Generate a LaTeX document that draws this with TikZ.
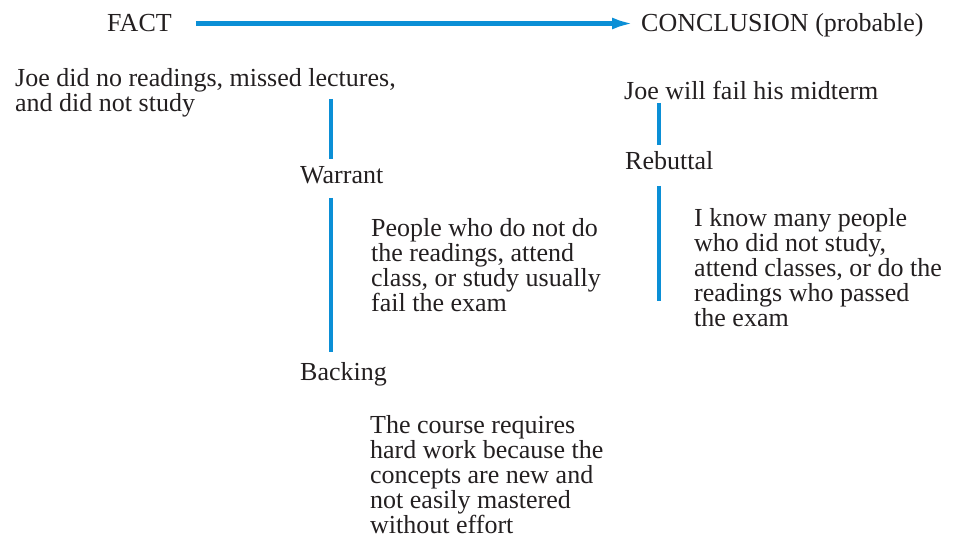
\documentclass[tikz,border=0pt]{standalone}
\usepackage{fontspec}
\setmainfont{Liberation Serif}
\usetikzlibrary{arrows.meta, calc}

\definecolor{argblue}{HTML}{0B8FD6}
\definecolor{argtext}{HTML}{231F20}

\begin{document}
\begin{tikzpicture}[x = 1bp, y = -1bp, > = {Latex[length = 22bp, width = 12bp]},
	txt/.style = {anchor = base west, inner sep = 0, align = left, text = argtext,
		font = \fontsize{26bp}{25bp}\selectfont},
	link/.style = {draw = argblue, line width = 4.5bp}]

	\useasboundingbox (0, 0) rectangle (954, 542);

	% Definitions (multi-line texts are placed by their last baseline)

	\def\dx{31}		% Offset of left stem from its label
	\def\rx{34}		% Offset of right stem from its label

	% Top line

	\node [txt] (fact) at (107, 32) {FACT};
	\node [txt] (concl) at (641, 32) {CONCLUSION (probable)};
	\draw [link, ->, shorten < = 24bp, shorten > = 7bp] (fact.east) -- (fact.east -| concl.west);

	% Left column

	\node [txt] (facttext) at (15, 112) {Joe did no readings, missed lectures,\\and did not study};
	\node [txt] (warrant) at (300, 184) {Warrant};
	\node [txt] (warranttext) at (371, 312) {People who do not do\\the readings, attend\\class, or study usually\\fail the exam};
	\node [txt] (backing) at (300, 381) {Backing};
	\node [txt] (backingtext) at (370, 533) {The course requires\\hard work because the\\concepts are new and\\not easily mastered\\without effort};

	% Right column

	\node [txt] (claim) at (624, 100) {Joe will fail his midterm};
	\node [txt] (rebuttal) at (625, 170) {Rebuttal};
	\node [txt] (rebuttaltext) at (694, 327) {I know many people\\who did not study,\\attend classes, or do the\\readings who passed\\the exam};

	% Stems

	\draw [link] ($(warrant.base west) + (\dx, -85)$) -- ($(warrant.base west) + (\dx, -25)$);
	\draw [link] ($(warrant.base west) + (\dx, 14)$) -- ($(backing.base west) + (\dx, -29)$);
	\draw [link] ($(rebuttal.base west) + (\rx, -67)$) -- ($(rebuttal.base west) + (\rx, -25)$);
	\draw [link] ($(rebuttal.base west) + (\rx, 16)$) -- ($(rebuttal.base west) + (\rx, 131)$);

\end{tikzpicture}
\end{document}
